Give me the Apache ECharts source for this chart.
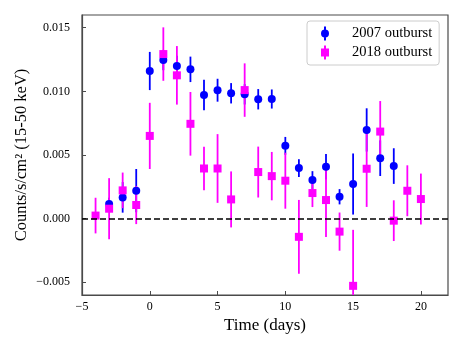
<!DOCTYPE html>
<html>
<head>
<meta charset="utf-8">
<script src="https://cdn.jsdelivr.net/npm/echarts@6/dist/echarts.min.js"></script>
<style>
  html, body { margin: 0; padding: 0; background: #fff; }
  #chart { width: 463px; height: 347px; }
</style>
</head>
<body>
<div id="chart"></div>
<script>
// 2007 outburst (blue circles)
const days2007 = [-3, -2, -1, 0, 1, 2, 3, 4, 5, 6, 7, 8, 9, 10, 11, 12, 13, 14, 15, 16, 17, 18];
const rate2007 = [0.00115, 0.00167, 0.0022, 0.0116, 0.01246, 0.0120, 0.01173, 0.00972, 0.01009, 0.00985, 0.00977,
  0.00938, 0.0094, 0.00572, 0.00397, 0.00303, 0.00408, 0.00172, 0.00272, 0.00697, 0.00475, 0.00413];
const err2007 = [0.0005, 0.0012, 0.0017, 0.0015, 0.0008, 0.0008, 0.001, 0.0012, 0.0009, 0.0008, 0.0008,
  0.0008, 0.00075, 0.0007, 0.0007, 0.0007, 0.001, 0.0006, 0.0024, 0.0017, 0.0014, 0.0014];

// 2018 outburst (magenta squares)
const days2018 = [-4, -3, -2, -1, 0, 1, 2, 3, 4, 5, 6, 7, 8, 9, 10, 11, 12, 13, 14, 15, 16, 17, 18, 19, 20];
const rate2018 = [0.00024, 0.00078, 0.00222, 0.00107, 0.0065, 0.01293, 0.01126, 0.00745, 0.00394, 0.00394, 0.00151,
  0.0101, 0.00366, 0.00334, 0.00298, -0.00143, 0.00201, 0.00146, -0.00102, -0.00528, 0.00392, 0.00684,
  -0.00016, 0.00219, 0.00154];
const err2018 = [0.0014, 0.0024, 0.0014, 0.0015, 0.0026, 0.0021, 0.0023, 0.0025, 0.0017, 0.0027, 0.0022,
  0.0021, 0.0020, 0.0019, 0.0022, 0.0029, 0.0011, 0.0029, 0.0015, 0.0044, 0.0030, 0.0024,
  0.0016, 0.0020, 0.0020];

const xTicks = [-5, 0, 5, 10, 15, 20];
const yTicks = [-0.005, 0, 0.005, 0.010, 0.015];

const BLUE = '#0000ff';
const MAGENTA = '#ff00ff';
const FONT = 'Liberation Serif';
const FRAME = '#4a4a4a';

const circleIcon = 'path://M3,0 L5,0 L5,14 L3,14 Z M0,7 A4,4 0 1,1 8,7 A4,4 0 1,1 0,7 Z';
const squareIcon = 'path://M3,0 L5,0 L5,14 L3,14 Z M0,3 L8,3 L8,11 L0,11 Z';

function fmtY(v) {
  const s = Math.abs(v).toFixed(3);
  return v < -1e-9 ? '\u2212' + s : s;
}
function fmtX(v) {
  return v < 0 ? '\u2212' + Math.abs(v) : String(v);
}

function errSeries(name, days, rate, err, color) {
  return {
    name: name,
    type: 'custom',
    clip: true,
    silent: true,
    data: days.map((d, i) => [d, rate[i] - err[i], rate[i] + err[i]]),
    encode: { x: 0, y: [1, 2] },
    renderItem: function (params, api) {
      const lo = api.coord([api.value(0), api.value(1)]);
      const hi = api.coord([api.value(0), api.value(2)]);
      return {
        type: 'line',
        shape: { x1: lo[0], y1: lo[1], x2: hi[0], y2: hi[1] },
        style: { stroke: color, lineWidth: 1.8 }
      };
    }
  };
}

const chart = echarts.init(document.getElementById('chart'), null, { renderer: 'canvas' });

chart.setOption({
  animation: false,
  textStyle: { fontFamily: FONT },
  grid: {
    left: 82, right: 15, top: 15, bottom: 52,
    show: true, borderColor: FRAME, borderWidth: 1.2, backgroundColor: 'transparent'
  },
  legend: {
    orient: 'vertical',
    left: 307, top: 21,
    padding: [5, 7, 5, 14],
    itemGap: 4,
    itemWidth: 8, itemHeight: 14,
    borderColor: '#cccccc', borderWidth: 1, borderRadius: 3,
    backgroundColor: '#ffffff',
    textStyle: { fontFamily: FONT, fontSize: 14.5, color: '#000', padding: [0, 0, 0, 18] },
    data: [
      { name: '2007 outburst', icon: circleIcon },
      { name: '2018 outburst', icon: squareIcon }
    ]
  },
  xAxis: {
    type: 'value',
    min: -5, max: 22,
    name: 'Time (days)',
    nameLocation: 'middle',
    nameGap: 22,
    nameMoveOverlap: false,
    nameTextStyle: { fontFamily: FONT, fontSize: 17, color: '#000' },
    splitLine: { show: false },
    axisLine: { show: true, onZero: false, lineStyle: { color: FRAME, width: 1.2 } },
    axisTick: { show: true, inside: true, length: 4, customValues: xTicks, lineStyle: { color: FRAME } },
    axisLabel: { customValues: xTicks, formatter: fmtX, fontFamily: FONT, fontSize: 12, color: '#000', margin: 6 }
  },
  yAxis: {
    type: 'value',
    min: -0.006, max: 0.016,
    name: 'Counts/s/cm\u00b2 (15-50 keV)',
    nameLocation: 'middle',
    nameRotate: 90,
    nameGap: 52,
    nameMoveOverlap: false,
    nameTextStyle: { fontFamily: FONT, fontSize: 16.5, color: '#000' },
    splitLine: { show: false },
    axisLine: { show: true, onZero: false, lineStyle: { color: FRAME, width: 1.2 } },
    axisTick: { show: true, inside: true, length: 4, customValues: yTicks, lineStyle: { color: FRAME } },
    axisLabel: { customValues: yTicks, formatter: fmtY, fontFamily: FONT, fontSize: 12, color: '#000', margin: 12 }
  },
  series: [
    errSeries('2007 err', days2007, rate2007, err2007, BLUE),
    {
      name: '2007 outburst',
      type: 'scatter',
      symbol: 'circle',
      symbolSize: 8,
      itemStyle: { color: BLUE, opacity: 1 },
      data: days2007.map((d, i) => [d, rate2007[i]]),
      markLine: {
        silent: true,
        symbol: 'none',
        label: { show: false },
        lineStyle: { color: '#000', type: [6, 3], width: 1.6 },
        data: [{ yAxis: 0 }]
      }
    },
    errSeries('2018 err', days2018, rate2018, err2018, MAGENTA),
    {
      name: '2018 outburst',
      type: 'scatter',
      symbol: 'rect',
      symbolSize: 8,
      clip: true,
      itemStyle: { color: MAGENTA, opacity: 1 },
      data: days2018.map((d, i) => [d, rate2018[i]])
    }
  ]
});
</script>
</body>
</html>
